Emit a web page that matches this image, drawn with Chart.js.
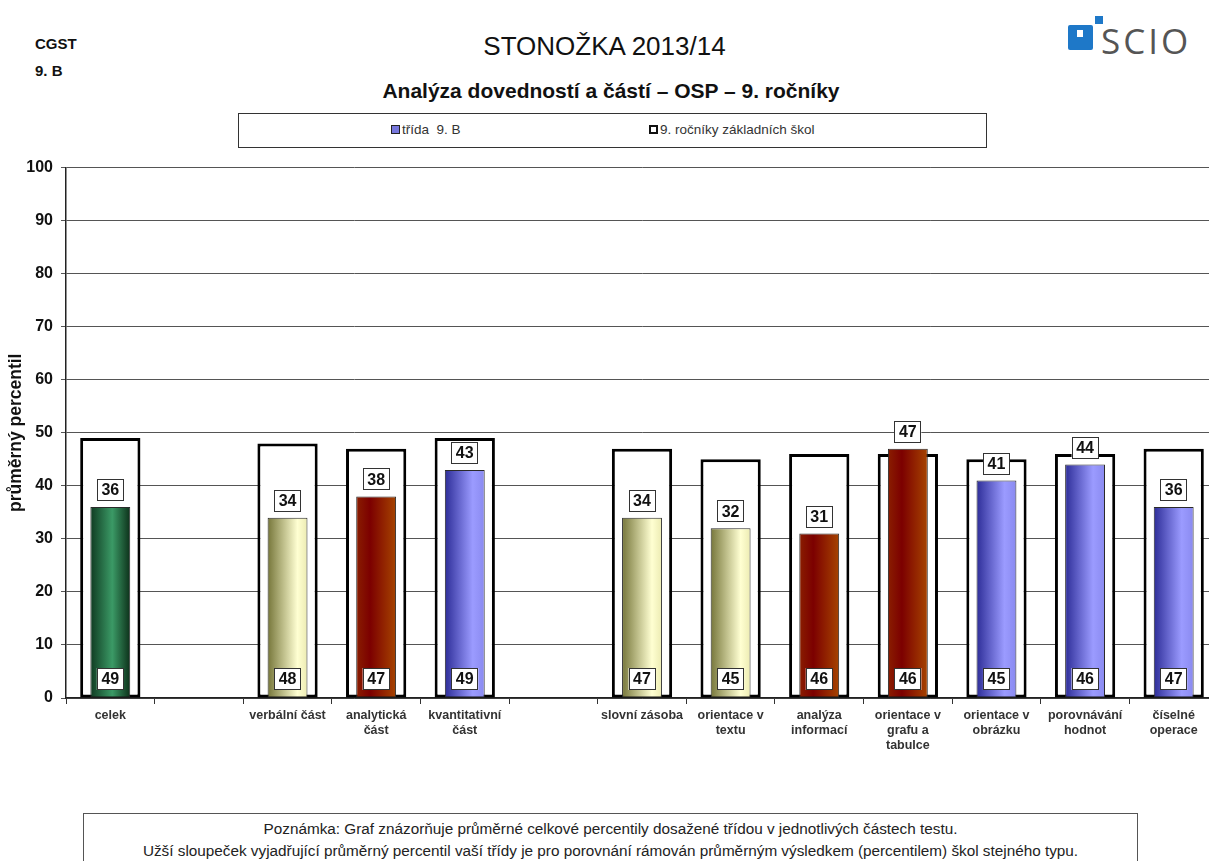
<!DOCTYPE html>
<html lang="cs">
<head>
<meta charset="utf-8">
<title>STONOŽKA 2013/14</title>
<script src="https://cdn.jsdelivr.net/npm/chart.js@4.4.1/dist/chart.umd.min.js"></script>
<style>
  html, body { margin: 0; padding: 0; background: #fff; }
  body { width: 1209px; height: 861px; overflow: hidden; position: relative;
         font-family: "Liberation Sans", Arial, sans-serif; color: #111; }
  .abs { position: absolute; }
  .school { font-weight: bold; font-size: 15px; left: 35px; }
  #title { left: 0; width: 1209px; top: 31px; text-align: center; font-size: 26px; }
  #subtitle { left: 0; width: 1222px; top: 79px; text-align: center; font-size: 21px; font-weight: bold; }
  #legend { left: 238px; top: 113px; width: 747px; height: 33px; border: 1px solid #333; font-size: 13.5px; color: #333; }
  .mark { display: inline-block; width: 7px; height: 7px; vertical-align: 0px; margin-right: 2px; }
  #logo-big { left: 1068px; top: 25px; width: 25px; height: 25px; background: #1e78c8; border-radius: 2px; }
  #logo-dot { left: 1077px; top: 30px; width: 6px; height: 7px; background: #fff; }
  #logo-small { left: 1095px; top: 16px; width: 8px; height: 8px; background: #1e78c8; }
  #logo-text { left: 1101px; top: 17px; font-family: "Open Sans", sans-serif; font-size: 35px; color: #555; letter-spacing: 3px; }
  #note { left: 83px; top: 813px; width: 1055px; height: 60px; border: 1px solid #555; text-align: center;
          font-size: 15.3px; line-height: 22px; padding-top: 4px; box-sizing: border-box; color: #222; }
  #wrap { left: 0; top: 150px; width: 1222px; height: 622px; }
</style>
</head>
<body>
<div class="abs school" style="top:35px">CGST</div>
<div class="abs school" style="top:62px">9. B</div>
<div class="abs" id="title">STONOŽKA 2013/14</div>
<div class="abs" id="subtitle">Analýza dovedností a částí – OSP – 9. ročníky</div>
<div class="abs" id="logo-big"></div>
<div class="abs" id="logo-dot"></div>
<div class="abs" id="logo-small"></div>
<div class="abs" id="logo-text">SCIO</div>
<div class="abs" id="legend">
  <span class="abs" style="left:152px;top:8px"><span class="mark" style="background:#7777dd;border:1px solid #222"></span>třída&nbsp; 9. B</span>
  <span class="abs" style="left:410px;top:8px"><span class="mark" style="background:#fff;border:2px solid #111;width:5px;height:5px"></span>9. ročníky základních škol</span>
</div>
<div class="abs" id="wrap"><canvas id="chart" width="1222" height="622"></canvas></div>
<div class="abs" id="note">Poznámka: Graf znázorňuje průměrné celkové percentily dosažené třídou v jednotlivých částech testu.<br>Užší sloupeček vyjadřující průměrný percentil vaší třídy je pro porovnání rámován průměrným výsledkem (percentilem) škol stejného typu.</div>

<script>
// categories (empty strings are the gaps between groups)
const categories = [
  ["celek"], "", ["verbální část"], ["analytická", "část"], ["kvantitativní", "část"], "",
  ["slovní zásoba"], ["orientace v", "textu"], ["analýza", "informací"],
  ["orientace v", "grafu a", "tabulce"], ["orientace v", "obrázku"],
  ["porovnávání", "hodnot"], ["číselné", "operace"],
];
const classValues = [36, null, 34, 38, 43, null, 34, 32, 31, 47, 41, 44, 36];
const schoolValues = [49, null, 48, 47, 49, null, 47, 45, 46, 46, 45, 46, 47];
const colorGroups = ["green", null, "olive", "red", "blue", null, "olive", "olive", "red", "red", "blue", "blue", "blue"];
const yTickValues = [0, 10, 20, 30, 40, 50, 60, 70, 80, 90, 100];

const outerPct = 0.68;
const innerPct = 0.45;

// horizontal gradient stops for the narrow bars
const palettes = {
  green: [[0, "#0f3a21"], [0.55, "#3b9a66"], [1, "#0c3019"]],
  olive: [[0, "#76763a"], [0.75, "#ffffd2"], [1, "#ecebb2"]],
  red: [[0, "#8a1e00"], [0.35, "#7c0000"], [1, "#a64400"]],
  blue: [[0, "#2d2d98"], [0.7, "#9b9bff"], [1, "#8a8af0"]],
};

function barGradient(context) {
  const chart = context.chart;
  const xScale = chart.scales.x;
  const group = colorGroups[context.dataIndex];
  if (!chart.chartArea || !xScale || !group) return "#888";
  const center = xScale.getPixelForValue(context.dataIndex);
  const half = (xScale.width / categories.length) * innerPct / 2;
  const g = chart.ctx.createLinearGradient(center - half, 0, center + half, 0);
  palettes[group].forEach(([pos, col]) => g.addColorStop(pos, col));
  return g;
}

function drawBox(ctx, x, y, text) {
  const w = 27, h = 22;
  ctx.fillStyle = "#fff";
  ctx.fillRect(x - w / 2, y - h / 2, w, h);
  ctx.strokeStyle = "#333";
  ctx.lineWidth = 1;
  ctx.strokeRect(Math.round(x - w / 2) + 0.5, Math.round(y - h / 2) + 0.5, w - 1, h - 1);
  ctx.fillStyle = "#111";
  ctx.fillText(text, x, y + 1);
}

// value boxes: class value above the narrow bar, school value at the bottom
const valueBoxes = {
  id: "valueBoxes",
  afterDatasetsDraw(chart) {
    const ctx = chart.ctx;
    const bottom = chart.chartArea.bottom;
    ctx.save();
    ctx.font = 'bold 16px "Liberation Sans", Arial, sans-serif';
    ctx.textAlign = "center";
    ctx.textBaseline = "middle";
    chart.getDatasetMeta(0).data.forEach((bar, i) => {
      if (schoolValues[i] == null) return;
      drawBox(ctx, bar.x, bottom - 19, String(schoolValues[i]));
    });
    chart.getDatasetMeta(1).data.forEach((bar, i) => {
      if (classValues[i] == null) return;
      drawBox(ctx, bar.x, bar.y - 17, String(classValues[i]));
    });
    ctx.restore();
  },
};

new Chart(document.getElementById("chart"), {
  type: "bar",
  data: {
    labels: categories,
    datasets: [
      {
        label: "9. ročníky základních škol",
        data: schoolValues,
        backgroundColor: "#fff",
        borderColor: "#000",
        borderWidth: 3,
        borderSkipped: false,
        barPercentage: outerPct,
        categoryPercentage: 1,
        grouped: false,
        order: 2,
      },
      {
        label: "třída 9. B",
        data: classValues,
        backgroundColor: barGradient,
        borderColor: "#2a2a2a",
        borderWidth: 1,
        borderSkipped: false,
        barPercentage: innerPct,
        categoryPercentage: 1,
        grouped: false,
        order: 1,
      },
    ],
  },
  options: {
    responsive: false,
    devicePixelRatio: 1,
    animation: false,
    layout: { padding: { top: 12, right: 4, left: 0, bottom: 0 } },
    plugins: { legend: { display: false }, tooltip: { enabled: false } },
    scales: {
      x: {
        afterFit: (axis) => { axis.height = 74; },
        grid: { offset: true, drawOnChartArea: false, drawTicks: true, tickLength: 6, color: "#333" },
        border: { color: "#222", width: 1.5 },
        ticks: {
          color: "#333",
          padding: 4,
          maxRotation: 0,
          autoSkip: false,
          font: { family: '"Liberation Sans", Arial, sans-serif', size: 12.5, weight: "bold", lineHeight: 1.2 },
        },
      },
      y: {
        min: 0,
        max: 100,
        afterFit: (axis) => { axis.width = 66; },
        afterBuildTicks: (axis) => { axis.ticks = yTickValues.map((v) => ({ value: v })); },
        grid: { color: "#555", lineWidth: 1, tickLength: 5 },
        border: { color: "#222", width: 1.5 },
        ticks: {
          color: "#111",
          padding: 8,
          font: { family: '"Liberation Sans", Arial, sans-serif', size: 16, weight: "bold" },
        },
        title: {
          display: true,
          text: "průměrný percentil",
          color: "#111",
          padding: { top: 6, bottom: 0 },
          font: { family: '"Liberation Sans", Arial, sans-serif', size: 17.5, weight: "bold" },
        },
      },
    },
  },
  plugins: [valueBoxes],
});
</script>
</body>
</html>
